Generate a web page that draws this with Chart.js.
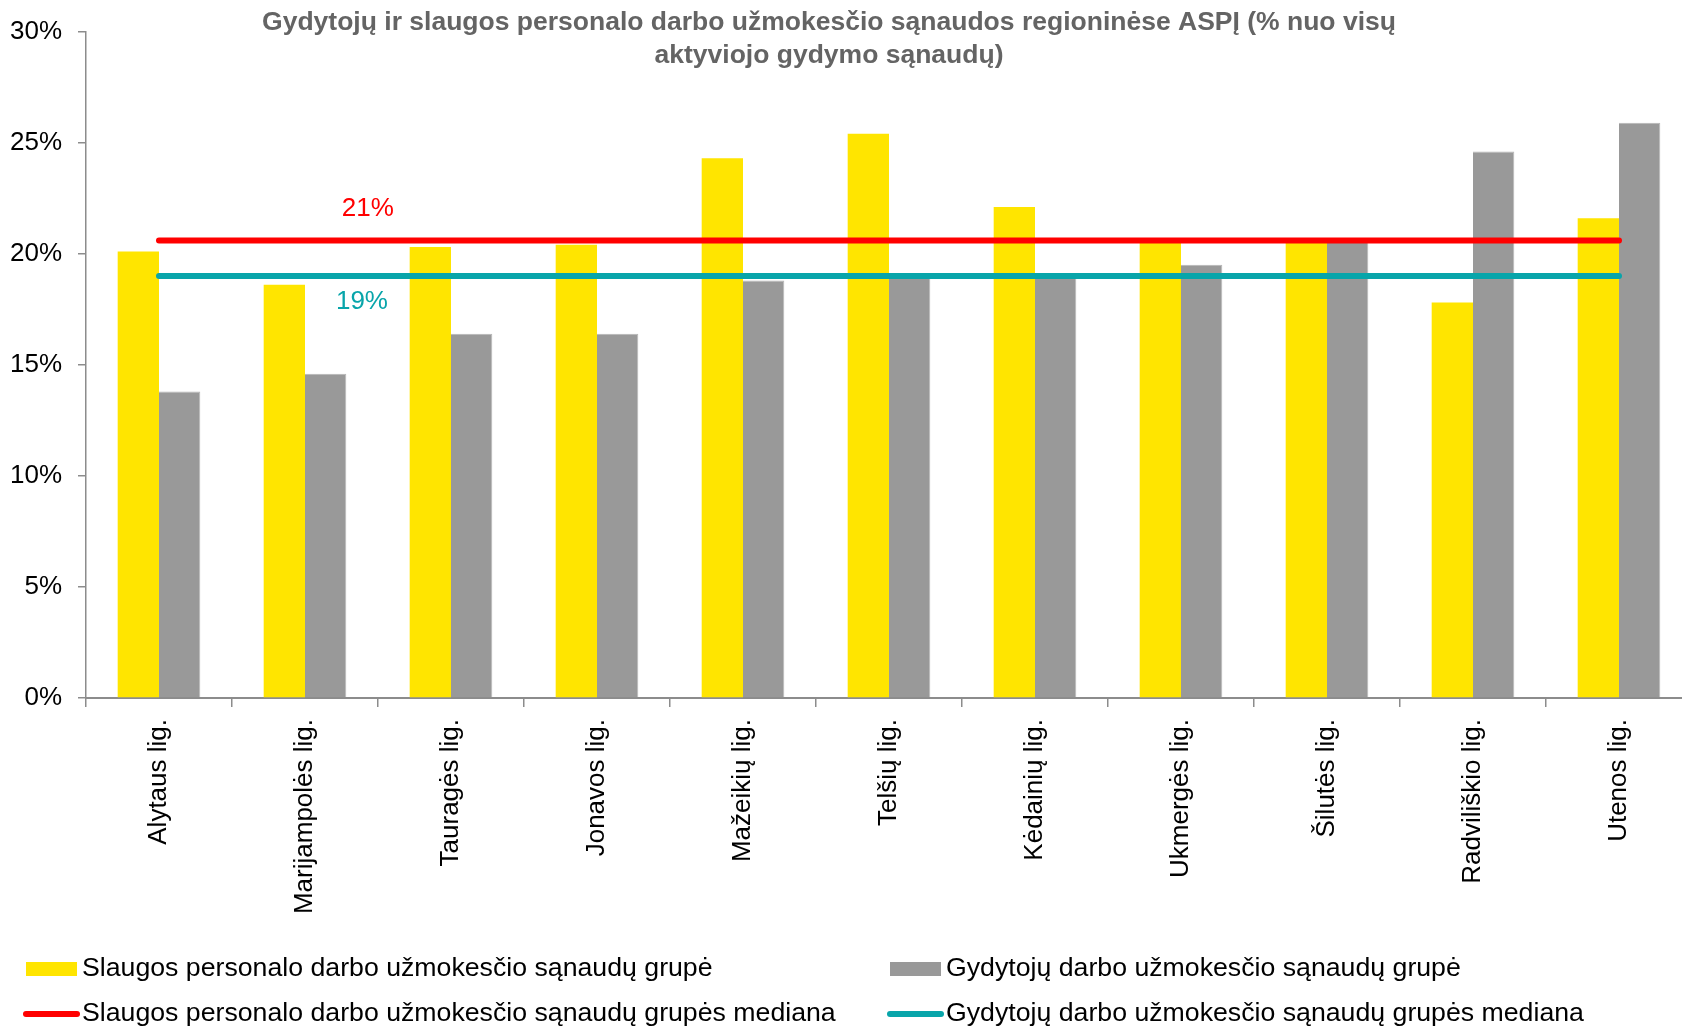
<!DOCTYPE html>
<html>
<head>
<meta charset="utf-8">
<script src="https://cdn.jsdelivr.net/npm/chart.js@4.4.1/dist/chart.umd.min.js"></script>
<style>
  html, body { margin: 0; padding: 0; background: #fff; overflow: hidden; }
  #wrap { width: 1692px; height: 1027px; }
</style>
</head>
<body>
<div id="wrap"><canvas id="asp" width="1692" height="1027"></canvas></div>
<script>
const categories = ['Alytaus lig.', 'Marijampolės lig.', 'Tauragės lig.', 'Jonavos lig.', 'Mažeikių lig.',
  'Telšių lig.', 'Kėdainių lig.', 'Ukmergės lig.', 'Šilutės lig.', 'Radviliškio lig.', 'Utenos lig.'];

// % of all active treatment costs
const nursingShare = [20.1, 18.6, 20.3, 20.4, 24.3, 25.4, 22.1, 20.5, 20.7, 17.8, 21.6];
const doctorShare  = [13.8, 14.6, 16.4, 16.4, 18.8, 19.0, 19.0, 19.5, 20.6, 24.6, 25.9];
const nursingMedian = [20.6, 20.6, 20.6, 20.6, 20.6, 20.6, 20.6, 20.6, 20.6, 20.6, 20.6];
const doctorMedian  = [19.0, 19.0, 19.0, 19.0, 19.0, 19.0, 19.0, 19.0, 19.0, 19.0, 19.0];
const medianLabels = ['21%', '19%'];

const yTicks = [0, 5, 10, 15, 20, 25, 30];

const titleLines = ['Gydytojų ir slaugos personalo darbo užmokesčio sąnaudos regioninėse ASPĮ (% nuo visų',
  'aktyviojo gydymo sąnaudų)'];

const FONT = '"Liberation Sans", Arial, sans-serif';
const YELLOW = '#FFE500';
const GREY = '#999999';
const RED = '#FF0000';
const TEAL = '#08A5AA';

// title sits over the top of the plot, like in the original
const titlePlugin = {
  id: 'titleOver',
  afterDraw(chart) {
    const ctx = chart.ctx;
    ctx.save();
    ctx.font = 'bold 26.5px ' + FONT;
    ctx.fillStyle = '#646464';
    ctx.textAlign = 'center';
    ctx.textBaseline = 'middle';
    ctx.fillText(titleLines[0], 829, 23);
    ctx.fillText(titleLines[1], 829, 56);
    ctx.restore();
  }
};

// "21%" / "19%" labels next to the median lines
const medianLabelPlugin = {
  id: 'medianLabels',
  afterDatasetsDraw(chart) {
    const ctx = chart.ctx;
    const x = chart.scales.x;
    const y = chart.scales.y;
    const step = x.getPixelForValue(2) - x.getPixelForValue(1);
    ctx.save();
    ctx.font = '26px ' + FONT;
    ctx.textAlign = 'center';
    ctx.textBaseline = 'middle';
    ctx.fillStyle = RED;
    ctx.fillText(medianLabels[0], x.getPixelForValue(1) + step * 0.43, y.getPixelForValue(nursingMedian[1]) - 32);
    ctx.fillStyle = TEAL;
    ctx.fillText(medianLabels[1], x.getPixelForValue(1) + step * 0.39, y.getPixelForValue(doctorMedian[1]) + 26);
    ctx.restore();
  }
};

// two-column legend at the bottom
const legendPlugin = {
  id: 'gridLegend',
  afterDraw(chart) {
    const ctx = chart.ctx;
    const cols = [26, 890];
    const rows = [969, 1014];
    ctx.save();
    ctx.font = '26.7px ' + FONT;
    ctx.textBaseline = 'middle';
    chart.data.datasets.forEach((ds, i) => {
      const cx = cols[i % 2];
      const cy = rows[Math.floor(i / 2)];
      if (ds.type === 'line') {
        ctx.strokeStyle = ds.borderColor;
        ctx.lineWidth = 6;
        ctx.lineCap = 'round';
        ctx.beginPath();
        ctx.moveTo(cx, cy);
        ctx.lineTo(cx + 51, cy);
        ctx.stroke();
      } else {
        ctx.fillStyle = ds.backgroundColor;
        ctx.fillRect(cx, cy - 7, 51, 14);
      }
      ctx.fillStyle = '#000';
      ctx.fillText(ds.label, cx + 56, cy);
    });
    ctx.restore();
  }
};

const ctx = document.getElementById('asp').getContext('2d');

new Chart(ctx, {
  type: 'bar',
  data: {
    labels: categories,
    datasets: [
      {
        label: 'Slaugos personalo darbo užmokesčio sąnaudų grupė',
        data: nursingShare,
        backgroundColor: YELLOW,
        order: 2
      },
      {
        label: 'Gydytojų darbo užmokesčio sąnaudų grupė',
        data: doctorShare,
        backgroundColor: GREY,
        borderColor: '#b5b5b5',
        borderWidth: { top: 1, left: 0, right: 1, bottom: 0 },
        order: 2
      },
      {
        type: 'line',
        label: 'Slaugos personalo darbo užmokesčio sąnaudų grupės mediana',
        data: nursingMedian,
        borderColor: RED,
        borderWidth: 6,
        borderCapStyle: 'round',
        pointRadius: 0,
        order: 1
      },
      {
        type: 'line',
        label: 'Gydytojų darbo užmokesčio sąnaudų grupės mediana',
        data: doctorMedian,
        borderColor: TEAL,
        borderWidth: 6,
        borderCapStyle: 'round',
        pointRadius: 0,
        order: 1
      }
    ]
  },
  options: {
    responsive: false,
    animation: false,
    devicePixelRatio: 1,
    layout: { padding: { top: 28, left: 0, right: 0, bottom: 0 } },
    datasets: {
      bar: { categoryPercentage: 0.566, barPercentage: 1.0 }
    },
    scales: {
      x: {
        offset: true,
        grid: {
          offset: true,
          drawOnChartArea: false,
          drawTicks: true,
          tickLength: 9,
          color: '#8c8c8c',
          lineWidth: 1.5
        },
        border: { color: '#8c8c8c', width: 2 },
        ticks: {
          minRotation: 90,
          maxRotation: 90,
          padding: 12,
          color: '#000',
          font: { family: FONT, size: 26 }
        },
        afterFit(scale) { scale.height = 329; }
      },
      y: {
        min: 0,
        max: 30,
        afterBuildTicks(scale) { scale.ticks = yTicks.map(v => ({ value: v })); },
        grid: {
          drawOnChartArea: false,
          drawTicks: true,
          tickLength: 8,
          color: '#8c8c8c',
          lineWidth: 1.5
        },
        border: { color: '#8c8c8c', width: 1.5 },
        ticks: {
          padding: 16,
          color: '#000',
          font: { family: FONT, size: 26 },
          callback: v => v + '%'
        },
        afterFit(scale) { scale.width = 86; }
      }
    },
    plugins: {
      legend: { display: false },
      title: { display: false },
      tooltip: { enabled: false }
    }
  },
  plugins: [titlePlugin, medianLabelPlugin, legendPlugin]
});
</script>
</body>
</html>
